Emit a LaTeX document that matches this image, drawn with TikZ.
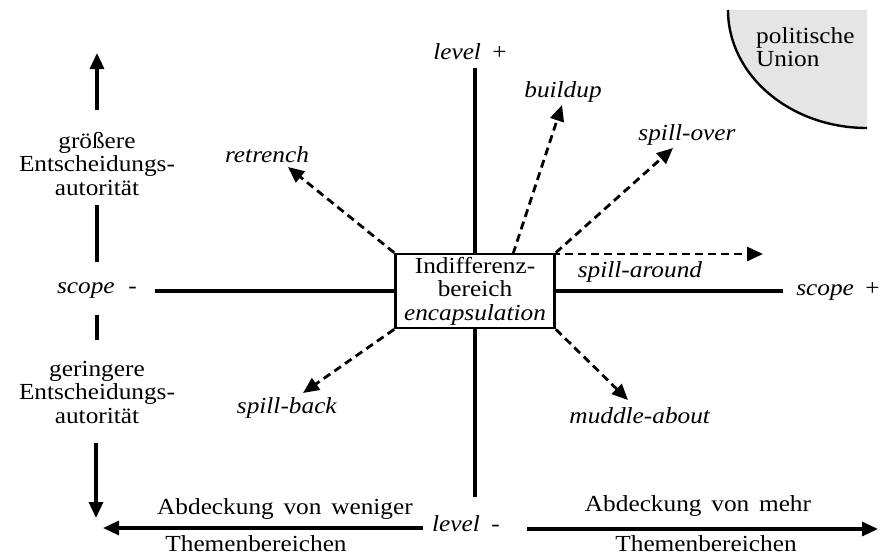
\documentclass[tikz,border=0pt]{standalone}
\usepackage{fontspec}
\setmainfont[FakeStretch=1.1,
  UprightFont={Liberation Serif},
  ItalicFont={Liberation Serif Italic},
  BoldFont={Liberation Serif Bold},
  BoldItalicFont={Liberation Serif Bold Italic}]{Liberation Serif}
\usetikzlibrary{arrows.meta}
\begin{document}
\begin{tikzpicture}[x=1pt,y=-1pt,
  txt/.style={inner sep=0pt, font=\fontsize{23}{23.5}\selectfont, align=center},
  ax/.style={line width=3.2pt},
  dsh/.style={line width=2.8pt, dash pattern=on 8pt off 5pt, -{Triangle[length=16pt,width=14pt]}},
  arr/.style={line width=3.2pt, -{Triangle[length=16pt,width=14pt]}}
]
\useasboundingbox (0,0) rectangle (885,557);

% political union quarter ellipse
\fill[gray!20] (867,10) -- (728,10) arc[start angle=180, end angle=90, x radius=139, y radius=118] -- cycle;
\draw[line width=2.4pt] (728,10) arc[start angle=180, end angle=90, x radius=139, y radius=118];
\node[txt, align=left, anchor=west] (pol) at (756,47) {politische\\Union};

% central box
\node[txt, draw, line width=2.6pt, minimum width=159pt, minimum height=74pt] (box) at (475,291)
  {Indifferenz-\\bereich\\\textit{encapsulation}};

% axes
\coordinate (vtop) at (475,68);
\coordinate (vbot) at (475,497);
\coordinate (hl) at (155,291);
\coordinate (hr) at (783,291);
\draw[ax] (vtop) -- (box);
\draw[ax] (box) -- (vbot);
\draw[ax] (hl) -- (box);
\draw[ax] (box) -- (hr);

\node[txt] (lvlp) at (470,52) {\textit{level}\hspace{0.5em}+};
\node[txt] (lvlm) at (466,524) {\textit{level}\hspace{0.5em}-};
\node[txt] (scm) at (97,291) {\textit{scope}\hspace{0.6em}-};
\node[txt] (scp) at (838,291) {\textit{scope}\hspace{0.5em}+};

% dashed arrows
\coordinate (bu0) at (513,254);
\coordinate (retT) at (288,167);
\coordinate (buT) at (562,105);
\coordinate (spoT) at (673,148);
\coordinate (sparT) at (763,254);
\coordinate (spbT) at (303,393);
\coordinate (muT) at (628,400);
\draw[dsh] (box.north west) -- (retT);
\draw[dsh] (bu0) -- (buT);
\draw[dsh] (box.north east) -- (spoT);
\draw[dsh] (bu0) -- (sparT);
\draw[dsh] (box.south west) -- (spbT);
\draw[dsh] (box.south east) -- (muT);

\node[txt] (lret) at (267,155) {\textit{retrench}};
\node[txt] (lbu) at (563,92) {\textit{buildup}};
\node[txt] (lspo) at (687,135) {\textit{spill-over}};
\node[txt] (lspar) at (640,272) {\textit{spill-around}};
\node[txt] (lspb) at (287,408) {\textit{spill-back}};
\node[txt] (lmu) at (640,416) {\textit{muddle-about}};

% left vertical scale
\coordinate (uA) at (97,110);
\coordinate (uT) at (97,53);
\draw[arr] (uA) -- (uT);
\node[txt] (gr) at (97,164) {größere\\Entscheidungs-\\autorität};
\coordinate (l1a) at (97,205);
\coordinate (l1b) at (97,262);
\draw[ax] (l1a) -- (l1b);
\coordinate (l2a) at (97,315);
\coordinate (l2b) at (97,340);
\draw[ax] (l2a) -- (l2b);
\node[txt] (ge) at (97,392) {geringere\\Entscheidungs-\\autorität};
\coordinate (dA) at (96,443);
\coordinate (dT) at (96,518);
\draw[arr] (dA) -- (dT);

% bottom scale
\coordinate (bl0) at (423,528);
\coordinate (blT) at (103,528);
\draw[arr] (bl0) -- (blT);
\node[txt] (aw) at (285,509) {Abdeckung\hspace{0.15em} von\hspace{0.15em} weniger};
\node[txt] (tw) at (256,544) {Themenbereichen};
\coordinate (br0) at (527,529);
\coordinate (brT) at (878,529);
\draw[arr] (br0) -- (brT);
\node[txt] (am) at (698,506) {Abdeckung\hspace{0.15em} von\hspace{0.15em} mehr};
\node[txt] (tm) at (706,544) {Themenbereichen};
\end{tikzpicture}
\end{document}
